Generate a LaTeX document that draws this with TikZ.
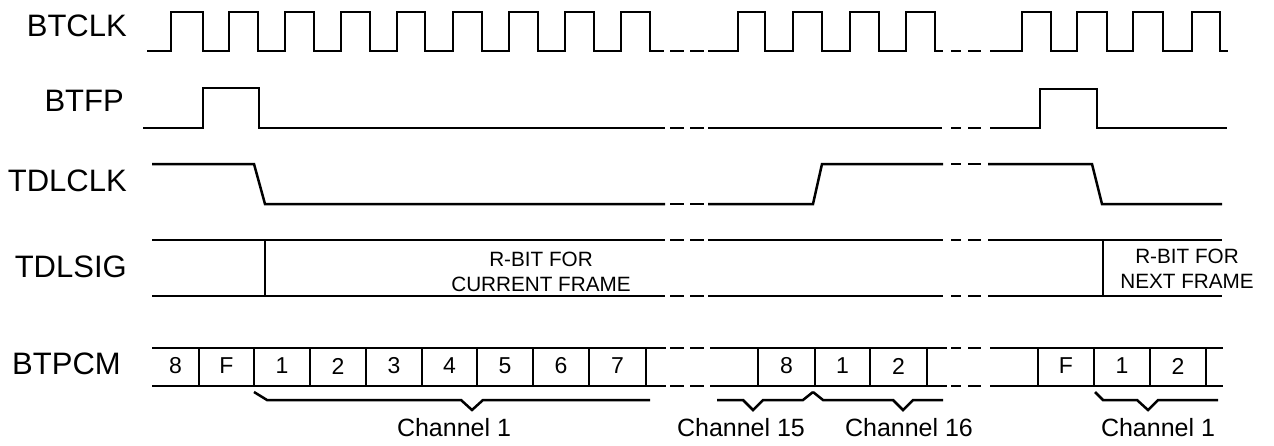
\documentclass[tikz,border=0pt]{standalone}
\usepackage{fontspec}
\setmainfont{Liberation Sans}
\newcommand\brkA[1]{\draw (670,#1)--(684,#1) (690,#1)--(704,#1);}
\newcommand\brkB[1]{\draw (951,#1)--(961,#1) (968,#1)--(981,#1);}
\begin{document}
\begin{tikzpicture}[x=1pt,y=-1pt,line width=2.5pt,line join=miter,
  lbl/.style={font=\fontsize{31}{37}\selectfont,anchor=east,inner sep=0pt},
  cell/.style={font=\fontsize{23}{27}\selectfont,inner sep=0pt},
  note/.style={font=\fontsize{20.7}{25}\selectfont,align=center,inner sep=0pt},
  chan/.style={font=\fontsize{25}{30}\selectfont,inner sep=0pt}]
\useasboundingbox (0,0) rectangle (1274,445);
% labels
\node[lbl] (lclk) at (128,26) {BTCLK};
\node[lbl] (lfp) at (125,101) {BTFP};
\node[lbl] (ltdlclk) at (128,181) {TDLCLK};
\node[lbl] (ltdlsig) at (128,267) {TDLSIG};
\node[lbl] (lpcm) at (122,364) {BTPCM};
% BTCLK
\draw (147,51) foreach \r/\f in {171/203,229/258,285/314,341/370,397/425,453/482,509/538,565/594,621/650}{ -- (\r,51) -- (\r,12) -- (\f,12) -- (\f,51)} -- (664,51);
\brkA{51}
\draw (708,51) foreach \r/\f in {738/765,793/822,850/879,906/935}{ -- (\r,51) -- (\r,12) -- (\f,12) -- (\f,51)} -- (943,51);
\brkB{51}
\draw (990,51) foreach \r/\f in {1022/1051,1077/1107,1133/1163,1192/1220}{ -- (\r,51) -- (\r,12) -- (\f,12) -- (\f,51)} -- (1228,51);
% BTFP
\draw (143,128) -- (203,128) -- (203,88) -- (259,88) -- (259,128) -- (665,128);
\brkA{128}
\draw (708,128) -- (942,128);
\brkB{128}
\draw (990,128) -- (1040,128) -- (1040,89) -- (1097,89) -- (1097,128) -- (1227,128);
% TDLCLK
\draw (152,164) -- (254,164) -- (265,204) -- (665,204);
\brkA{204}
\draw (708,204) -- (813,204) -- (822,164) -- (943,164);
\brkB{164}
\draw (988,164) -- (1092,164) -- (1102,204) -- (1222,204);
% TDLSIG
\foreach \y in {240,296}{
  \draw (152,\y) -- (665,\y);
  \brkA{\y}
  \draw (708,\y) -- (943,\y);
  \brkB{\y}
  \draw (988,\y) -- (1222,\y);
}
\draw (265,240) -- (265,296);
\draw (1103,240) -- (1103,296);
\node[note] (rcur) at (541,272) {R-BIT FOR\\CURRENT FRAME};
\node[note] (rnext) at (1187,269) {R-BIT FOR\\NEXT FRAME};
% BTPCM
\foreach \y in {348,386}{
  \draw (152,\y) -- (666,\y);
  \brkA{\y}
  \draw (710,\y) -- (947,\y);
  \brkB{\y}
  \draw (990,\y) -- (1223,\y);
}
\foreach \x in {199,254,310,366,422,477,533,589,646,758,815,870,927,1038,1094,1150,1206}
  \draw (\x,348) -- (\x,386);
\foreach \a/\b/\t [count=\i] in {152/199/8,199/254/F,254/310/1,310/366/2,366/422/3,422/477/4,477/533/5,533/589/6,589/646/7,758/815/8,815/870/1,870/927/2,1038/1094/F,1094/1150/1,1150/1206/2}
  \node[cell] (c\i) at ({(\a+\b)/2},366) {\t};
% braces
\draw (254,392) -- (267,400) -- (461,400) -- (472,410) -- (483,400) -- (650,400);
\draw (717,400) -- (743,400) -- (753,410) -- (763,400) -- (803,400) -- (813,392);
\draw (813,392) -- (823,400) -- (893,400) -- (903,410) -- (913,400) -- (943,400);
\draw (1095,392) -- (1103,400) -- (1137,400) -- (1148,410) -- (1158,400) -- (1218,400);
\node[chan] (ch1) at (454,428) {Channel 1};
\node[chan] (ch15) at (741,428) {Channel 15};
\node[chan] (ch16) at (909,428) {Channel 16};
\node[chan] (ch1b) at (1158,428) {Channel 1};
\end{tikzpicture}
\end{document}
